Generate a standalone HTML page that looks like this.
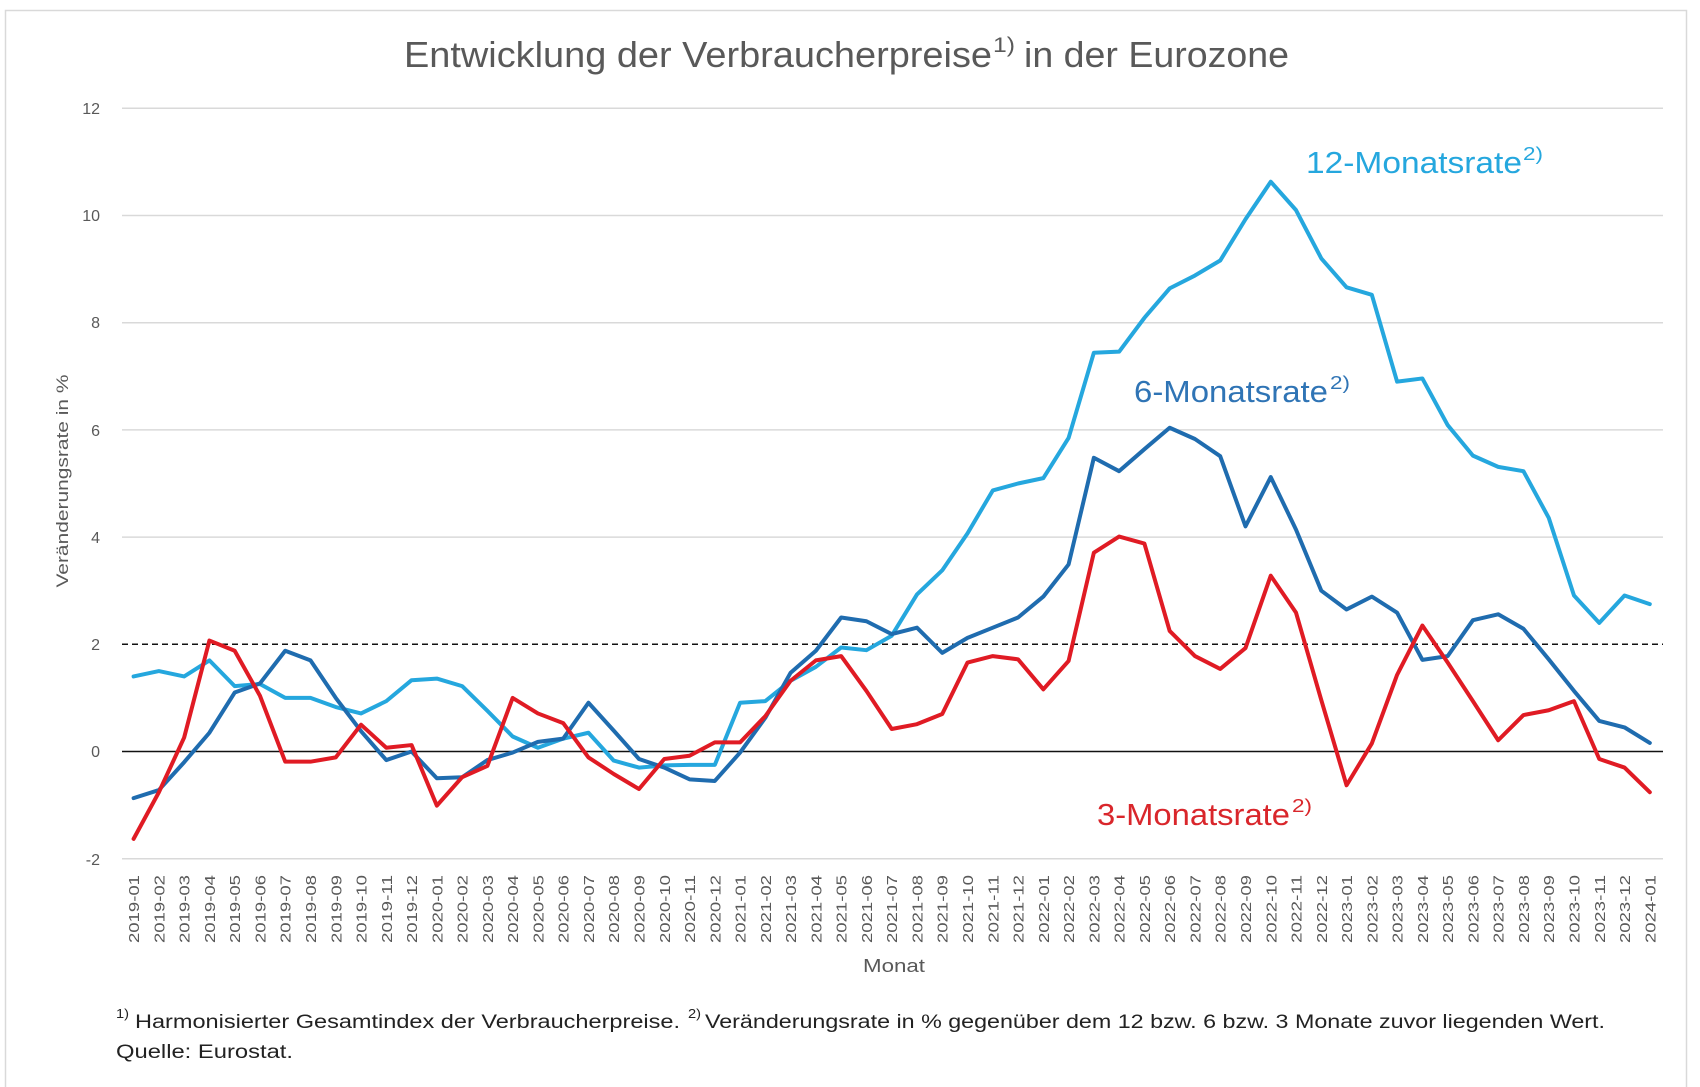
<!DOCTYPE html>
<html>
<head>
<meta charset="utf-8">
<style>
  html,body{margin:0;padding:0;background:#fff;}
  svg{display:block;}
  text{font-family:"Liberation Sans",sans-serif;}
</style>
</head>
<body>
<svg width="1700" height="1087" viewBox="0 0 1700 1087" xmlns="http://www.w3.org/2000/svg">
  <rect x="0" y="0" width="1700" height="1087" fill="#fff"/>
  <rect x="5.5" y="10.5" width="1681" height="1080" fill="#fff" stroke="#d9d9d9" stroke-width="1.5"/>

  <!-- Title -->
  <text x="404" y="67" font-size="36" fill="#595959" textLength="588" lengthAdjust="spacingAndGlyphs">Entwicklung der Verbraucherpreise</text>
  <text x="993" y="52" font-size="21" fill="#595959" textLength="22" lengthAdjust="spacingAndGlyphs">1)</text>
  <text x="1024" y="67" font-size="36" fill="#595959" textLength="265" lengthAdjust="spacingAndGlyphs">in der Eurozone</text>

  <!-- gridlines -->
  <g stroke="#d9d9d9" stroke-width="1.5">
    <line x1="122" y1="108.3" x2="1663" y2="108.3"/>
    <line x1="122" y1="215.5" x2="1663" y2="215.5"/>
    <line x1="122" y1="322.7" x2="1663" y2="322.7"/>
    <line x1="122" y1="429.9" x2="1663" y2="429.9"/>
    <line x1="122" y1="537.1" x2="1663" y2="537.1"/>
    <line x1="122" y1="858.7" x2="1663" y2="858.7"/>
  </g>
  <line x1="122" y1="644.3" x2="1663" y2="644.3" stroke="#111" stroke-width="1.5" stroke-dasharray="6 4"/>
  <line x1="122" y1="751.5" x2="1663" y2="751.5" stroke="#111" stroke-width="1.6"/>

  <!-- y tick labels -->
  <g font-size="16" fill="#595959" text-anchor="end">
    <text x="100" y="114">12</text>
    <text x="100" y="221">10</text>
    <text x="100" y="328">8</text>
    <text x="100" y="436">6</text>
    <text x="100" y="543">4</text>
    <text x="100" y="650">2</text>
    <text x="100" y="757">0</text>
    <text x="100" y="865">-2</text>
  </g>

  <!-- y axis title -->
  <text transform="translate(68,481) rotate(-90)" font-size="17" fill="#595959" text-anchor="middle" textLength="213" lengthAdjust="spacingAndGlyphs">Veränderungsrate in %</text>

  <!-- series -->
  <g transform="matrix(25.27 0 0 -53.6 133.6 751.5)" fill="none" stroke-linejoin="round" stroke-linecap="round">
    <polyline vector-effect="non-scaling-stroke" stroke="#25a7de" stroke-width="4" points="0,1.4 1,1.5 2,1.4 3,1.7 4,1.22 5,1.26 6,1.0 7,1.0 8,0.83 9,0.71 10,0.94 11,1.33 12,1.36 13,1.22 14,0.76 15,0.28 16,0.07 17,0.24 18,0.35 19,-0.17 20,-0.3 21,-0.26 22,-0.25 23,-0.25 24,0.91 25,0.94 26,1.32 27,1.58 28,1.94 29,1.89 30,2.16 31,2.93 32,3.38 33,4.07 34,4.87 35,5.0 36,5.1 37,5.85 38,7.44 39,7.46 40,8.09 41,8.64 42,8.88 43,9.16 44,9.93 45,10.63 46,10.1 47,9.2 48,8.66 49,8.52 50,6.9 51,6.96 52,6.09 53,5.52 54,5.31 55,5.23 56,4.36 57,2.91 58,2.4 59,2.91 60,2.75"/>
    <polyline vector-effect="non-scaling-stroke" stroke="#1f6caf" stroke-width="4" points="0,-0.87 1,-0.72 2,-0.2 3,0.35 4,1.1 5,1.27 6,1.88 7,1.7 8,1.0 9,0.38 10,-0.16 11,0 12,-0.5 13,-0.48 14,-0.16 15,-0.02 16,0.18 17,0.24 18,0.91 19,0.39 20,-0.14 21,-0.3 22,-0.52 23,-0.55 24,-0.02 25,0.63 26,1.47 27,1.88 28,2.5 29,2.43 30,2.19 31,2.31 32,1.84 33,2.12 34,2.31 35,2.5 36,2.89 37,3.49 38,5.48 39,5.23 40,5.64 41,6.04 42,5.83 43,5.51 44,4.2 45,5.12 46,4.14 47,3.0 48,2.65 49,2.89 50,2.59 51,1.71 52,1.78 53,2.45 54,2.56 55,2.29 56,1.72 57,1.13 58,0.57 59,0.45 60,0.16"/>
    <polyline vector-effect="non-scaling-stroke" stroke="#e01b24" stroke-width="4" points="0,-1.63 1,-0.76 2,0.26 3,2.07 4,1.88 5,1.04 6,-0.19 7,-0.19 8,-0.11 9,0.5 10,0.07 11,0.12 12,-1.01 13,-0.48 14,-0.27 15,1.0 16,0.71 17,0.53 18,-0.11 19,-0.42 20,-0.7 21,-0.14 22,-0.08 23,0.17 24,0.17 25,0.66 26,1.32 27,1.7 28,1.78 29,1.13 30,0.42 31,0.51 32,0.7 33,1.66 34,1.78 35,1.72 36,1.16 37,1.69 38,3.71 39,4.01 40,3.88 41,2.25 42,1.78 43,1.54 44,1.93 45,3.28 46,2.59 47,0.96 48,-0.63 49,0.15 50,1.43 51,2.35 52,1.66 53,0.94 54,0.21 55,0.68 56,0.77 57,0.94 58,-0.14 59,-0.3 60,-0.76"/>
  </g>

  <!-- series labels -->
  <text x="1306" y="173" font-size="31" fill="#25a7de" textLength="216" lengthAdjust="spacingAndGlyphs">12-Monatsrate</text>
  <text x="1523" y="160" font-size="18" fill="#25a7de" textLength="20" lengthAdjust="spacingAndGlyphs">2)</text>
  <text x="1134" y="402" font-size="31" fill="#2f74b5" textLength="194" lengthAdjust="spacingAndGlyphs">6-Monatsrate</text>
  <text x="1330" y="389" font-size="18" fill="#2f74b5" textLength="20" lengthAdjust="spacingAndGlyphs">2)</text>
  <text x="1097" y="825" font-size="31" fill="#d9262b" textLength="193" lengthAdjust="spacingAndGlyphs">3-Monatsrate</text>
  <text x="1292" y="812" font-size="18" fill="#d9262b" textLength="20" lengthAdjust="spacingAndGlyphs">2)</text>

  <!-- x labels -->
  <g font-size="15" fill="#595959" text-anchor="end">
    <text transform="translate(139.1,875) rotate(-90)" textLength="68" lengthAdjust="spacingAndGlyphs">2019-01</text>
    <text transform="translate(164.4,875) rotate(-90)" textLength="68" lengthAdjust="spacingAndGlyphs">2019-02</text>
    <text transform="translate(189.6,875) rotate(-90)" textLength="68" lengthAdjust="spacingAndGlyphs">2019-03</text>
    <text transform="translate(214.9,875) rotate(-90)" textLength="68" lengthAdjust="spacingAndGlyphs">2019-04</text>
    <text transform="translate(240.2,875) rotate(-90)" textLength="68" lengthAdjust="spacingAndGlyphs">2019-05</text>
    <text transform="translate(265.5,875) rotate(-90)" textLength="68" lengthAdjust="spacingAndGlyphs">2019-06</text>
    <text transform="translate(290.7,875) rotate(-90)" textLength="68" lengthAdjust="spacingAndGlyphs">2019-07</text>
    <text transform="translate(316.0,875) rotate(-90)" textLength="68" lengthAdjust="spacingAndGlyphs">2019-08</text>
    <text transform="translate(341.3,875) rotate(-90)" textLength="68" lengthAdjust="spacingAndGlyphs">2019-09</text>
    <text transform="translate(366.5,875) rotate(-90)" textLength="68" lengthAdjust="spacingAndGlyphs">2019-10</text>
    <text transform="translate(391.8,875) rotate(-90)" textLength="68" lengthAdjust="spacingAndGlyphs">2019-11</text>
    <text transform="translate(417.1,875) rotate(-90)" textLength="68" lengthAdjust="spacingAndGlyphs">2019-12</text>
    <text transform="translate(442.3,875) rotate(-90)" textLength="68" lengthAdjust="spacingAndGlyphs">2020-01</text>
    <text transform="translate(467.6,875) rotate(-90)" textLength="68" lengthAdjust="spacingAndGlyphs">2020-02</text>
    <text transform="translate(492.9,875) rotate(-90)" textLength="68" lengthAdjust="spacingAndGlyphs">2020-03</text>
    <text transform="translate(518.2,875) rotate(-90)" textLength="68" lengthAdjust="spacingAndGlyphs">2020-04</text>
    <text transform="translate(543.4,875) rotate(-90)" textLength="68" lengthAdjust="spacingAndGlyphs">2020-05</text>
    <text transform="translate(568.7,875) rotate(-90)" textLength="68" lengthAdjust="spacingAndGlyphs">2020-06</text>
    <text transform="translate(594.0,875) rotate(-90)" textLength="68" lengthAdjust="spacingAndGlyphs">2020-07</text>
    <text transform="translate(619.2,875) rotate(-90)" textLength="68" lengthAdjust="spacingAndGlyphs">2020-08</text>
    <text transform="translate(644.5,875) rotate(-90)" textLength="68" lengthAdjust="spacingAndGlyphs">2020-09</text>
    <text transform="translate(669.8,875) rotate(-90)" textLength="68" lengthAdjust="spacingAndGlyphs">2020-10</text>
    <text transform="translate(695.0,875) rotate(-90)" textLength="68" lengthAdjust="spacingAndGlyphs">2020-11</text>
    <text transform="translate(720.3,875) rotate(-90)" textLength="68" lengthAdjust="spacingAndGlyphs">2020-12</text>
    <text transform="translate(745.6,875) rotate(-90)" textLength="68" lengthAdjust="spacingAndGlyphs">2021-01</text>
    <text transform="translate(770.9,875) rotate(-90)" textLength="68" lengthAdjust="spacingAndGlyphs">2021-02</text>
    <text transform="translate(796.1,875) rotate(-90)" textLength="68" lengthAdjust="spacingAndGlyphs">2021-03</text>
    <text transform="translate(821.4,875) rotate(-90)" textLength="68" lengthAdjust="spacingAndGlyphs">2021-04</text>
    <text transform="translate(846.7,875) rotate(-90)" textLength="68" lengthAdjust="spacingAndGlyphs">2021-05</text>
    <text transform="translate(871.9,875) rotate(-90)" textLength="68" lengthAdjust="spacingAndGlyphs">2021-06</text>
    <text transform="translate(897.2,875) rotate(-90)" textLength="68" lengthAdjust="spacingAndGlyphs">2021-07</text>
    <text transform="translate(922.5,875) rotate(-90)" textLength="68" lengthAdjust="spacingAndGlyphs">2021-08</text>
    <text transform="translate(947.7,875) rotate(-90)" textLength="68" lengthAdjust="spacingAndGlyphs">2021-09</text>
    <text transform="translate(973.0,875) rotate(-90)" textLength="68" lengthAdjust="spacingAndGlyphs">2021-10</text>
    <text transform="translate(998.3,875) rotate(-90)" textLength="68" lengthAdjust="spacingAndGlyphs">2021-11</text>
    <text transform="translate(1023.6,875) rotate(-90)" textLength="68" lengthAdjust="spacingAndGlyphs">2021-12</text>
    <text transform="translate(1048.8,875) rotate(-90)" textLength="68" lengthAdjust="spacingAndGlyphs">2022-01</text>
    <text transform="translate(1074.1,875) rotate(-90)" textLength="68" lengthAdjust="spacingAndGlyphs">2022-02</text>
    <text transform="translate(1099.4,875) rotate(-90)" textLength="68" lengthAdjust="spacingAndGlyphs">2022-03</text>
    <text transform="translate(1124.6,875) rotate(-90)" textLength="68" lengthAdjust="spacingAndGlyphs">2022-04</text>
    <text transform="translate(1149.9,875) rotate(-90)" textLength="68" lengthAdjust="spacingAndGlyphs">2022-05</text>
    <text transform="translate(1175.2,875) rotate(-90)" textLength="68" lengthAdjust="spacingAndGlyphs">2022-06</text>
    <text transform="translate(1200.4,875) rotate(-90)" textLength="68" lengthAdjust="spacingAndGlyphs">2022-07</text>
    <text transform="translate(1225.7,875) rotate(-90)" textLength="68" lengthAdjust="spacingAndGlyphs">2022-08</text>
    <text transform="translate(1251.0,875) rotate(-90)" textLength="68" lengthAdjust="spacingAndGlyphs">2022-09</text>
    <text transform="translate(1276.3,875) rotate(-90)" textLength="68" lengthAdjust="spacingAndGlyphs">2022-10</text>
    <text transform="translate(1301.5,875) rotate(-90)" textLength="68" lengthAdjust="spacingAndGlyphs">2022-11</text>
    <text transform="translate(1326.8,875) rotate(-90)" textLength="68" lengthAdjust="spacingAndGlyphs">2022-12</text>
    <text transform="translate(1352.1,875) rotate(-90)" textLength="68" lengthAdjust="spacingAndGlyphs">2023-01</text>
    <text transform="translate(1377.3,875) rotate(-90)" textLength="68" lengthAdjust="spacingAndGlyphs">2023-02</text>
    <text transform="translate(1402.6,875) rotate(-90)" textLength="68" lengthAdjust="spacingAndGlyphs">2023-03</text>
    <text transform="translate(1427.9,875) rotate(-90)" textLength="68" lengthAdjust="spacingAndGlyphs">2023-04</text>
    <text transform="translate(1453.1,875) rotate(-90)" textLength="68" lengthAdjust="spacingAndGlyphs">2023-05</text>
    <text transform="translate(1478.4,875) rotate(-90)" textLength="68" lengthAdjust="spacingAndGlyphs">2023-06</text>
    <text transform="translate(1503.7,875) rotate(-90)" textLength="68" lengthAdjust="spacingAndGlyphs">2023-07</text>
    <text transform="translate(1529.0,875) rotate(-90)" textLength="68" lengthAdjust="spacingAndGlyphs">2023-08</text>
    <text transform="translate(1554.2,875) rotate(-90)" textLength="68" lengthAdjust="spacingAndGlyphs">2023-09</text>
    <text transform="translate(1579.5,875) rotate(-90)" textLength="68" lengthAdjust="spacingAndGlyphs">2023-10</text>
    <text transform="translate(1604.8,875) rotate(-90)" textLength="68" lengthAdjust="spacingAndGlyphs">2023-11</text>
    <text transform="translate(1630.0,875) rotate(-90)" textLength="68" lengthAdjust="spacingAndGlyphs">2023-12</text>
    <text transform="translate(1655.3,875) rotate(-90)" textLength="68" lengthAdjust="spacingAndGlyphs">2024-01</text>
  </g>

  <!-- x axis title -->
  <text x="894" y="972" font-size="18" fill="#595959" text-anchor="middle" textLength="62" lengthAdjust="spacingAndGlyphs">Monat</text>

  <!-- footnotes -->
  <text x="116" y="1018" font-size="13" fill="#222" textLength="13" lengthAdjust="spacingAndGlyphs">1)</text>
  <text x="135" y="1028" font-size="19" fill="#222" textLength="545" lengthAdjust="spacingAndGlyphs">Harmonisierter Gesamtindex der Verbraucherpreise.</text>
  <text x="688" y="1018" font-size="13" fill="#222" textLength="13" lengthAdjust="spacingAndGlyphs">2)</text>
  <text x="705" y="1028" font-size="19" fill="#222" textLength="900" lengthAdjust="spacingAndGlyphs">Veränderungsrate in % gegenüber dem 12 bzw. 6 bzw. 3 Monate zuvor liegenden Wert.</text>
  <text x="116" y="1058" font-size="19" fill="#222" textLength="177" lengthAdjust="spacingAndGlyphs">Quelle: Eurostat.</text>
</svg>
</body>
</html>
